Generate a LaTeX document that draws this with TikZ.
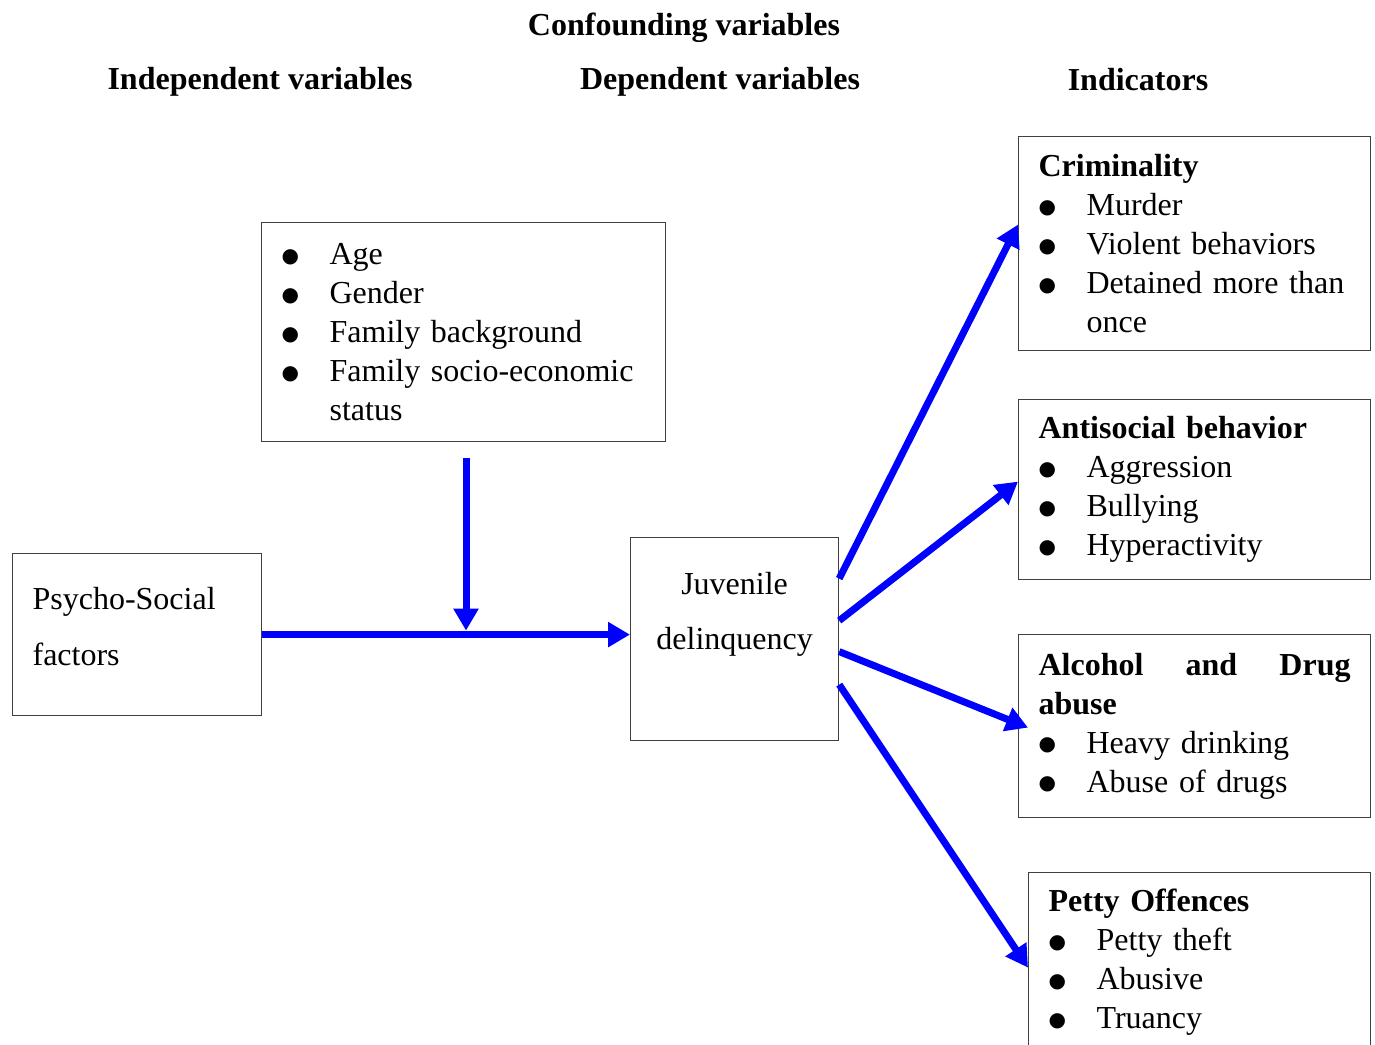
\documentclass[tikz,border=0pt]{standalone}
\usepackage{fontspec}
\setmainfont{Liberation Serif}
\newfontfamily\symfont{DejaVu Sans}
\usepackage{tikz}
\usetikzlibrary{arrows.meta}
\usetikzlibrary{positioning}

\newcommand{\bul}{\raisebox{1.2pt}{\symfont\fontsize{10}{10}\selectfont ●}}
\newcommand{\itm}[1]{\makebox[24pt][l]{\bul}#1}
\newcommand{\cont}[1]{\hspace*{24pt}#1}

\begin{document}
\begin{tikzpicture}[x=0.5pt, y=-0.5pt]
				\useasboundingbox (0,0) rectangle (1375,1044);
				\begin{scope}[every node/.style = {font = \fontsize{16}{19.5}\selectfont\bfseries}]
					\node (conftitle) at (684,28) {Confounding variables};
					\node (indtitle) at (260,82) {Independent variables};
					\node (deptitle) at (720,82) {Dependent variables};
					\node (indictitle) at (1138,80) {Indicators};
				\end{scope}
				\begin{scope}[every node/.style = {rectangle, draw=black!75, line width=0.6pt,
						anchor=north west, inner xsep=10pt, inner ysep=0pt, align=left,
						font = \fontsize{16}{19.5}\selectfont}]
					\node[minimum width=202pt, minimum height=109.5pt, text width=182pt] (conf) at (261,222)
						{\itm{Age}\\ \itm{Gender}\\ \itm{Family background}\\ \itm{Family socio-economic}\\ \cont{status}};
					\node[minimum width=124.5pt, minimum height=81pt, text width=104.5pt,
						font = \fontsize{16}{28}\selectfont] (psy) at (12,553)
						{Psycho-Social\\ factors\par\kern8pt};
					\node[minimum width=104pt, minimum height=101.5pt, text width=84pt, align=center,
						font = \fontsize{16}{27.5}\selectfont] (juv) at (630,537)
						{Juvenile\\ delinquency\par\kern25pt};
					\node[minimum width=176pt, minimum height=107pt, text width=156pt] (crim) at (1018,136)
						{\textbf{Criminality}\\ \itm{Murder}\\ \itm{Violent behaviors}\\ \itm{Detained more than}\\ \cont{once}};
					\node[minimum width=176pt, minimum height=90pt, text width=156pt] (anti) at (1018,399)
						{\textbf{Antisocial behavior}\\ \itm{Aggression}\\ \itm{Bullying}\\ \itm{Hyperactivity}};
					\node[minimum width=176pt, minimum height=91.5pt, text width=156pt] (alc) at (1018,634)
						{\textbf{Alcohol \hfill and \hfill Drug}\\ \textbf{abuse}\\ \itm{Heavy drinking}\\ \itm{Abuse of drugs}};
					\node[minimum width=171pt, minimum height=90pt, text width=151pt] (petty) at (1028,872)
						{\textbf{Petty Offences}\\ \itm{Petty theft}\\ \itm{Abusive}\\ \itm{Truancy}};
				\end{scope}
				\begin{scope}[>={Triangle[length=11pt, width=12pt]},
						every path/.style={draw=blue, line width=3.5pt}]
					\path [->] (psy.east) -- (psy.east -| juv.west);
					\path [->] ([yshift=-8pt]conf.south -| 466,0) -- ([yshift=2pt]psy.east -| 466,0);
					\path [->] ([yshift=30.25pt]juv.east) -- ([yshift=9.5pt]crim.west);
					\path [->] ([yshift=9.25pt]juv.east) -- ([yshift=4pt]anti.west);
					\path [->] ([yshift=-6.25pt]juv.east) -- ([xshift=5pt, yshift=-0.75pt]alc.west);
					\path [->] ([yshift=-22.75pt]juv.east) -- ([yshift=-2.5pt]petty.west);
				\end{scope}
			\end{tikzpicture}
\end{document}
